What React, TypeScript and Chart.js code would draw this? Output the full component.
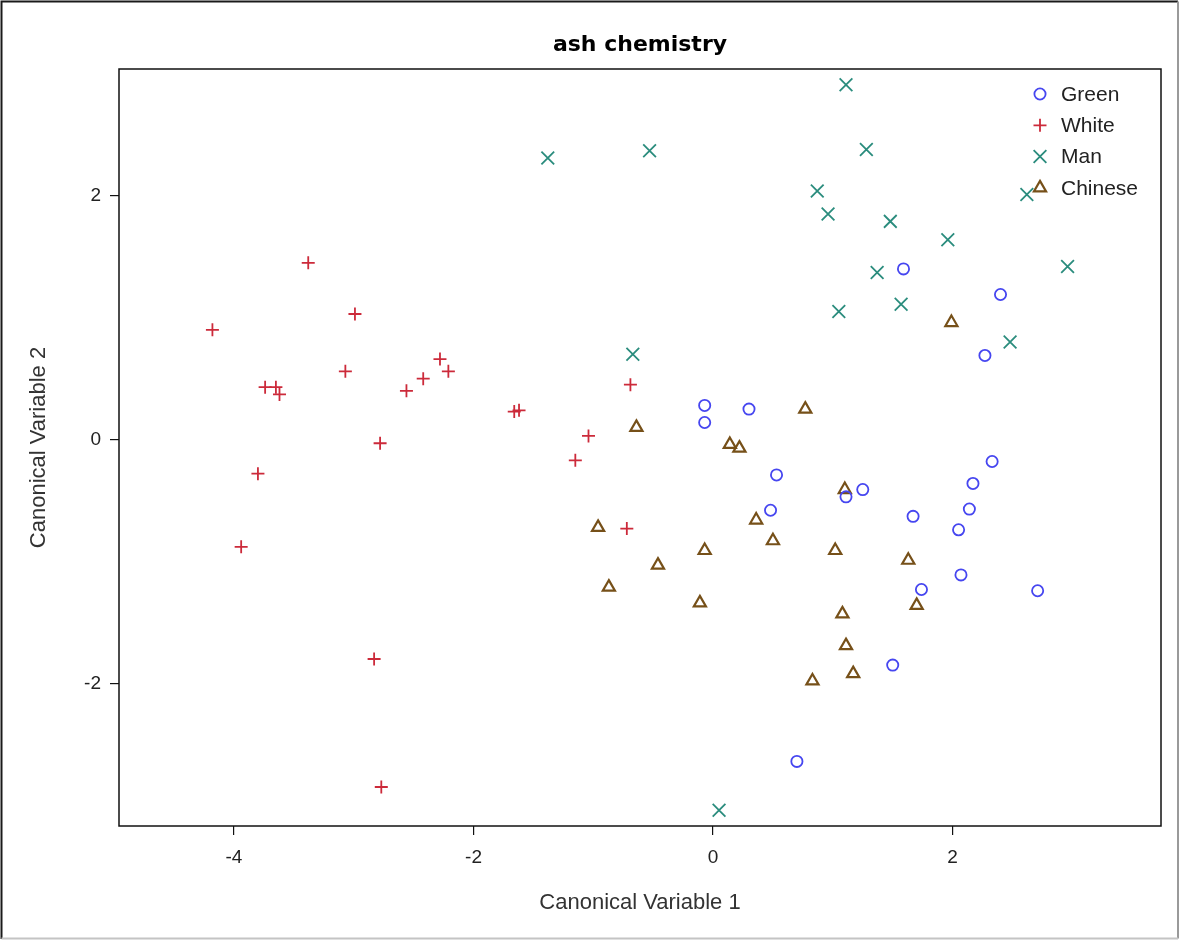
import React, { useEffect, useRef } from "react";
import { Chart, registerables } from "chart.js";
import { drawPoint } from "chart.js/helpers";

Chart.register(...registerables);

// Canonical discriminant scores by ash species
const greenX = [-0.07, -0.07, 0.30, 0.53, 1.11, 1.25, 0.48, 1.50, 2.33, 2.17, 2.14, 1.67, 2.05, 2.07, 1.74, 2.71, 1.59, 2.40, 2.27, 0.70];
const greenY = [0.28, 0.14, 0.25, -0.29, -0.47, -0.41, -0.58, -1.85, -0.18, -0.36, -0.57, -0.63, -0.74, -1.11, -1.23, -1.24, 1.40, 1.19, 0.69, -2.64];

const whiteX = [-4.18, -3.38, -2.99, -3.07, -3.74, -3.65, -3.62, -2.56, -2.42, -2.28, -2.21, -2.78, -3.80, -3.94, -2.83, -2.77, -1.66, -1.62, -0.69, -1.04, -1.15, -0.72];
const whiteY = [0.90, 1.45, 1.03, 0.56, 0.43, 0.43, 0.37, 0.40, 0.50, 0.66, 0.56, -0.03, -0.28, -0.88, -1.80, -2.85, 0.23, 0.24, 0.45, 0.03, -0.17, -0.73];

const manX = [1.11, 1.28, 0.87, 0.96, 1.48, 2.62, 1.96, 1.37, 2.96, 1.57, 1.05, 2.48, -1.38, -0.53, 0.05, -0.67];
const manY = [2.91, 2.38, 2.04, 1.85, 1.79, 2.01, 1.64, 1.37, 1.42, 1.11, 1.05, 0.80, 2.31, 2.37, -3.04, 0.70];

const chineseX = [0.77, -0.64, 0.14, 0.22, 1.10, 0.36, 0.50, -0.96, -0.07, -0.46, 1.02, -0.87, -0.11, 1.08, 1.11, 1.17, 0.83, 1.63, 1.70, 1.99];
const chineseY = [0.25, 0.10, -0.04, -0.07, -0.41, -0.66, -0.83, -0.72, -0.91, -1.03, -0.91, -1.21, -1.34, -1.43, -1.69, -1.92, -1.98, -0.99, -1.36, 0.96];

const seriesNames = ["Green", "White", "Man", "Chinese"];
const xTicks = [-4, -2, 0, 2];
const yTicks = [-2, 0, 2];

const SANS = "'Liberation Sans', Arial, sans-serif";

const toPoints = (xs: number[], ys: number[]) => xs.map((x, i) => ({ x, y: ys[i] }));

// Series marker look
const markers = [
  { style: "circle", color: "#4646f0", radius: 5.6, width: 1.8 },
  { style: "cross", color: "#cc2a3a", radius: 6.5, width: 1.8 },
  { style: "crossRot", color: "#2a8c7d", radius: 9, width: 1.8 },
  { style: "triangle", color: "#765019", radius: 7, width: 2.2 },
];

// Frame around the plot area and the outer border of the figure
const framePlugin = {
  id: "frame",
  beforeDatasetsDraw(chart: any) {
    const { ctx, chartArea, width, height } = chart;
    ctx.save();
    ctx.strokeStyle = "#111";
    ctx.lineWidth = 1.5;
    ctx.strokeRect(chartArea.left, chartArea.top, chartArea.right - chartArea.left, chartArea.bottom - chartArea.top);
    ctx.lineWidth = 2;
    ctx.strokeStyle = "#1a1a1a";
    ctx.beginPath();
    ctx.moveTo(1.5, height - 2);
    ctx.lineTo(1.5, 1.5);
    ctx.lineTo(width - 2, 1.5);
    ctx.stroke();
    ctx.strokeStyle = "#9a9a9a";
    ctx.beginPath();
    ctx.moveTo(width - 2, 1.5);
    ctx.lineTo(width - 2, height - 2.5);
    ctx.stroke();
    ctx.strokeStyle = "#c4c4c4";
    ctx.beginPath();
    ctx.moveTo(1.5, height - 2.5);
    ctx.lineTo(width - 2, height - 2.5);
    ctx.stroke();
    ctx.restore();
  },
};

// Legend drawn inside the upper right corner of the plot area
const insetLegendPlugin = {
  id: "insetLegend",
  afterDatasetsDraw(chart: any) {
    const { ctx, chartArea } = chart;
    const x0 = chartArea.right - 121;
    const y0 = chartArea.top + 25;
    const step = 31.3;
    ctx.save();
    chart.data.datasets.forEach((ds: any, i: number) => {
      const m = markers[i];
      const y = y0 + i * step;
      ctx.strokeStyle = m.color;
      ctx.fillStyle = "rgba(0,0,0,0)";
      ctx.lineWidth = m.width;
      drawPoint(ctx, { pointStyle: m.style, radius: m.radius, rotation: 0, borderWidth: m.width }, x0, y);
      ctx.fillStyle = "#222";
      ctx.font = `21px ${SANS}`;
      ctx.textAlign = "left";
      ctx.textBaseline = "middle";
      ctx.fillText(ds.label, x0 + 21, y + 1);
    });
    ctx.restore();
  },
};

export default function App() {
  const canvasRef = useRef<HTMLCanvasElement | null>(null);

  useEffect(() => {
    if (!canvasRef.current) return;
    const seriesX = [greenX, whiteX, manX, chineseX];
    const seriesY = [greenY, whiteY, manY, chineseY];
    const chart = new Chart(canvasRef.current, {
      type: "scatter",
      data: {
        datasets: seriesNames.map((name, i) => ({
          label: name,
          data: toPoints(seriesX[i], seriesY[i]),
          pointStyle: markers[i].style as any,
          pointRadius: markers[i].radius,
          pointHoverRadius: markers[i].radius,
          borderColor: markers[i].color,
          backgroundColor: "rgba(0,0,0,0)",
          pointBorderWidth: markers[i].width,
        })),
      },
      options: {
        responsive: false,
        animation: false,
        devicePixelRatio: 1,
        layout: { padding: { left: 0, right: 19, top: 0, bottom: 0 } },
        plugins: {
          legend: { display: false },
          tooltip: { enabled: false },
          title: {
            display: true,
            text: "ash chemistry",
            fullSize: false,
            color: "#000",
            font: { family: "'DejaVu Sans', sans-serif", size: 22, weight: "bold", lineHeight: 1.2 },
            padding: { top: 32, bottom: 10.6 },
          },
        },
        scales: {
          x: {
            type: "linear",
            min: -4.96,
            max: 3.74,
            afterBuildTicks: (scale: any) => {
              scale.ticks = xTicks.map((v) => ({ value: v }));
            },
            afterFit: (scale: any) => {
              scale.height = 115;
            },
            grid: { drawOnChartArea: false, drawTicks: true, tickLength: 9, color: "#111", lineWidth: 1.2 },
            border: { display: false },
            ticks: {
              color: "#222",
              padding: 11,
              maxRotation: 0,
              font: { family: SANS, size: 19 },
            },
            title: {
              display: true,
              text: "Canonical Variable 1",
              color: "#333",
              font: { family: SANS, size: 22 },
              padding: { top: 0, bottom: 25 },
            },
          },
          y: {
            type: "linear",
            min: -3.17,
            max: 3.04,
            afterBuildTicks: (scale: any) => {
              scale.ticks = yTicks.map((v) => ({ value: v }));
            },
            afterFit: (scale: any) => {
              scale.width = 119;
            },
            grid: { drawOnChartArea: false, drawTicks: true, tickLength: 9, color: "#111", lineWidth: 1.2 },
            border: { display: false },
            ticks: {
              color: "#222",
              padding: 9,
              font: { family: SANS, size: 19 },
            },
            title: {
              display: true,
              text: "Canonical Variable 2",
              color: "#333",
              font: { family: SANS, size: 22 },
              padding: { top: 26, bottom: 0 },
            },
          },
        },
      },
      plugins: [framePlugin, insetLegendPlugin],
    });
    return () => chart.destroy();
  }, []);

  return (
    <div style={{ position: "absolute", left: 0, top: 0, width: 1180, height: 941, background: "#fff" }}>
      <canvas ref={canvasRef} width={1180} height={941} style={{ display: "block", width: 1180, height: 941 }} />
    </div>
  );
}
